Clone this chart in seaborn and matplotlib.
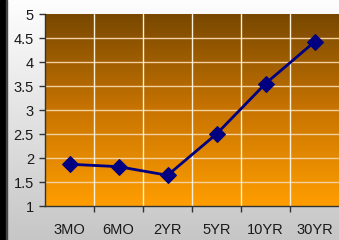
import numpy as np
import matplotlib
matplotlib.use("Agg")
import matplotlib.pyplot as plt
from matplotlib.colors import LinearSegmentedColormap
import seaborn as sns

categories = ["3MO", "6MO", "2YR", "5YR", "10YR", "30YR"]
values = [1.87, 1.82, 1.64, 2.50, 3.55, 4.42]
y_ticks = [1, 1.5, 2, 2.5, 3, 3.5, 4, 4.5, 5]
y_labels = ["1", "1.5", "2", "2.5", "3", "3.5", "4", "4.5", "5"]

sns.set_theme(style="white")
plt.rcParams['font.family'] = ['Liberation Sans', 'DejaVu Sans']

fig = plt.figure(figsize=(3.39, 2.40), dpi=100)

# figure background gradient
bg = fig.add_axes([0, 0, 1, 1], zorder=-10)
bg_cmap = LinearSegmentedColormap.from_list("bg", ["#fefefe", "#c6c6c6"])
bg.imshow(np.linspace(0, 1, 256).reshape(-1, 1), aspect="auto", cmap=bg_cmap,
          extent=[0, 1, 0, 1], origin="upper")
bg.axvspan(0, 5.5 / 339, color="black")
bg.axvspan(5.5 / 339, 7 / 339, color="#444444")
bg.set_xlim(0, 1)
bg.set_ylim(0, 1)
bg.axis("off")

ax = fig.add_axes([45 / 339, 34 / 240, 294 / 339, 192 / 240])
ax.patch.set_alpha(0)

# plot-area gradient
pa_cmap = LinearSegmentedColormap.from_list("pa", ["#784800", "#c87400", "#ff9e00"])
ax.imshow(np.linspace(0, 1, 256).reshape(-1, 1), aspect="auto", cmap=pa_cmap,
          extent=[-0.5, 5.5, 1, 5], origin="upper", zorder=0)

sns.lineplot(x=categories, y=values, sort=False, ax=ax, color="#000080",
             linewidth=2.0, marker="D", markersize=8.5, markeredgecolor="#000080",
             zorder=5)

ax.set_xlim(-0.5, 5.5)
ax.set_ylim(1, 5)
ax.set_yticks(y_ticks)
ax.set_yticklabels(y_labels)
ax.set_xticks(range(len(categories)))
ax.set_xticklabels(categories)
ax.set_xticks(np.arange(0.5, 5.5, 1), minor=True)

for yv in y_ticks[1:-1]:
    ax.axhline(yv, color="#f2d0a0", linewidth=1.0, zorder=1)
for xv in np.arange(0.5, 5.5, 1):
    ax.axvline(xv, color="#fbf0dc", linewidth=1.0, zorder=1)

ax.tick_params(axis="x", which="major", length=0, pad=12.5, labelsize=10.5,
               colors="#1a1a1a")
ax.tick_params(axis="x", which="minor", length=4, width=1, color="#333333",
               direction="out", bottom=True)
ax.tick_params(axis="y", which="major", length=4, width=1, color="#333333",
               direction="out", left=True, pad=4, labelsize=10.5,
               labelcolor="#1a1a1a")
ax.set_xlabel("")
ax.set_ylabel("")
for s in ["top", "right"]:
    ax.spines[s].set_visible(False)
for s in ["left", "bottom"]:
    ax.spines[s].set_color("#333333")
    ax.spines[s].set_linewidth(1.0)
    ax.spines[s].set_zorder(6)
ax.grid(False)

fig.savefig("out.png", dpi=100)
